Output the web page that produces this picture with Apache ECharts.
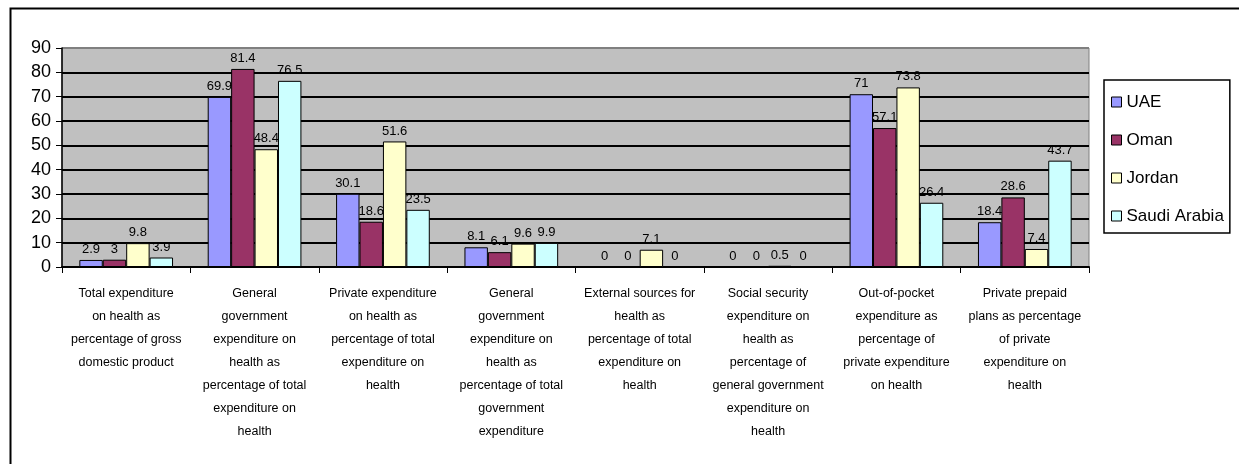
<!DOCTYPE html>
<html>
<head>
<meta charset="utf-8">
<script src="https://cdn.jsdelivr.net/npm/echarts@6/dist/echarts.min.js"></script>
<style>html,body{margin:0;padding:0;background:#fff;}#c{width:1239px;height:464px;}</style>
</head>
<body>
<div id="c"></div>
<script>
const categories = [
  "Total expenditure\non health as\npercentage of gross\ndomestic product",
  "General\ngovernment\nexpenditure on\nhealth as\npercentage of total\nexpenditure on\nhealth",
  "Private expenditure\non health as\npercentage of total\nexpenditure on\nhealth",
  "General\ngovernment\nexpenditure on\nhealth as\npercentage of total\ngovernment\nexpenditure",
  "External sources for\nhealth as\npercentage of total\nexpenditure on\nhealth",
  "Social security\nexpenditure on\nhealth as\npercentage of\ngeneral government\nexpenditure on\nhealth",
  "Out-of-pocket\nexpenditure as\npercentage of\nprivate expenditure\non health",
  "Private prepaid\nplans as percentage\nof private\nexpenditure on\nhealth"
];
const seriesNames = ["UAE", "Oman", "Jordan", "Saudi Arabia"];
const uae = [2.9, 69.9, 30.1, 8.1, 0, 0, 71, 18.4];
const oman = [3, 81.4, 18.6, 6.1, 0, 0, 57.1, 28.6];
const jordan = [9.8, 48.4, 51.6, 9.6, 7.1, 0.5, 73.8, 7.4];
const saudi = [3.9, 76.5, 23.5, 9.9, 0, 0, 26.4, 43.7];
const yMin = 0, yMax = 90, yStep = 10;

const colors = ["#9999FF", "#993366", "#FFFFCC", "#CCFFFF"];
const narrow = "'Liberation Sans Narrow', 'Liberation Sans', Arial, sans-serif";
const regular = "'Liberation Sans', Arial, sans-serif";
const values = [uae, oman, jordan, saudi];

const chart = echarts.init(document.getElementById('c'), null, {renderer: 'canvas'});
const splitColors = [];
for (let v = yMin; v <= yMax; v += yStep) splitColors.push(v === yMax ? '#808080' : '#000000');

chart.setOption({
  animation: false,
  backgroundColor: '#ffffff',
  graphic: [{
    type: 'rect', left: 8, top: 6, z: 100,
    shape: {width: 1240, height: 470},
    style: {fill: 'none', stroke: '#000', lineWidth: 2}
  }],
  grid: {
    left: 62, right: 150, top: 48, bottom: 197,
    show: true, backgroundColor: '#C0C0C0', borderColor: '#808080', borderWidth: 1
  },
  legend: {
    orient: 'vertical', left: 1104, top: 80,
    data: seriesNames,
    icon: 'rect', itemWidth: 10, itemHeight: 10, itemGap: 18, itemTextGap: 7,
    padding: [12, 6, 7, 7],
    borderColor: '#000', borderWidth: 1.5,
    itemStyle: {borderColor: '#000', borderWidth: 1},
    textStyle: {fontFamily: regular, fontSize: 17, color: '#000', lineHeight: 20}
  },
  xAxis: {
    type: 'category', data: categories,
    axisLine: {lineStyle: {color: '#000', width: 2}},
    axisTick: {show: true, length: 6, interval: 0, lineStyle: {color: '#000', width: 1}},
    axisLabel: {interval: 0, margin: 15, fontFamily: narrow, fontSize: 12.5, lineHeight: 23, color: '#000', verticalAlign: 'top'}
  },
  yAxis: {
    type: 'value', min: yMin, max: yMax, interval: yStep,
    axisLine: {show: true, lineStyle: {color: '#000', width: 1.5}},
    axisTick: {show: true, length: 6, lineStyle: {color: '#000'}},
    axisLabel: {fontFamily: regular, fontSize: 18, color: '#000', margin: 11},
    splitLine: {show: true, lineStyle: {color: splitColors, width: 2}}
  },
  series: seriesNames.map((n, i) => ({
    name: n, type: 'bar', data: values[i],
    barGap: '0%', barCategoryGap: '27%',
    itemStyle: {color: colors[i], borderColor: '#000', borderWidth: 1},
    label: {show: true, position: 'top', distance: 4, fontFamily: narrow, fontSize: 13, color: '#000'}
  }))
});
</script>
</body>
</html>
